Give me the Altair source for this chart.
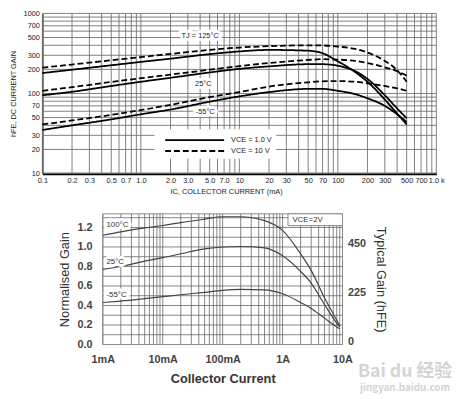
import altair as alt
import pandas as pd

# ---------------- top chart data (hFE vs Ic, mA) ----------------
top_current = [0.1, 0.2, 0.5, 1, 2, 5, 10, 20, 50, 70, 100, 150, 200, 300, 400, 500]
hfe_125_1v = [180, 198, 225, 248, 272, 310, 335, 350, 342, 318, 252, 185, 140, 84, 56, 41]
hfe_25_1v = [95, 105, 124, 140, 157, 183, 203, 218, 232, 232, 222, 190, 152, 95, 65, 49]
hfe_m55_1v = [35, 40, 47.5, 55, 63, 79, 92, 104, 114, 114, 108, 98, 87, 70, 55, 44]
hfe_125_10v = [210, 230, 260, 285, 312, 350, 375, 390, 400, 398, 385, 360, 325, 255, 195, 140]
hfe_25_10v = [108, 120, 139, 155, 172, 198, 220, 240, 262, 268, 265, 255, 240, 212, 190, 167]
hfe_m55_10v = [41, 46, 54, 62, 72, 90, 104, 122, 138, 142, 143, 140, 134, 124, 116, 108]
vce_names = ["VCE = 1.0 V", "VCE = 10 V"]

top_xticks = [0.1, 0.2, 0.3, 0.5, 0.7, 1, 2, 3, 5, 7, 10, 20, 30, 50, 70, 100, 200, 300, 500, 700, 1000]
top_yticks = [10, 20, 30, 50, 70, 100, 200, 300, 500, 700, 1000]
top_vgrid_vals = [m * d for d in [0.1, 1, 10, 100] for m in range(1, 10)] + [1000]
top_hgrid_vals = [m * d for d in [10, 100] for m in range(1, 10)] + [1000]

top_label_text = ["TJ = 125°C", "25°C", "-55°C"]
top_label_I = [4.0, 4.3, 4.5]
top_label_h = [522, 131, 59]

# ---------------- bottom chart data (normalised gain vs Ic, mA) ----------------
bot_current = [1, 2, 5, 10, 20, 50, 100, 200, 500, 1000, 2000, 3000, 5000, 8000, 9000]
gain_100 = [1.12, 1.155, 1.195, 1.22, 1.25, 1.285, 1.31, 1.31, 1.27, 1.17, 0.93, 0.76, 0.48, 0.25, 0.19]
gain_25 = [0.77, 0.80, 0.855, 0.89, 0.93, 0.98, 1.0, 1.005, 0.99, 0.91, 0.75, 0.63, 0.41, 0.22, 0.18]
gain_m55 = [0.43, 0.445, 0.47, 0.49, 0.51, 0.535, 0.555, 0.565, 0.56, 0.52, 0.43, 0.37, 0.27, 0.18, 0.16]
bot_temps = ["100°C", "25°C", "-55°C"]
bot_xticks = [1, 10, 100, 1000, 10000]
bot_yticks = [0, 0.2, 0.4, 0.6, 0.8, 1.0, 1.2]
bot_rticks = [0, 0.5, 1.0]
bot_vgrid_vals = [m * d for d in [1, 10, 100, 1000] for m in range(1, 10)] + [10000]
bot_hgrid_vals = [0.1, 0.2, 0.3, 0.4, 0.5, 0.6, 0.7, 0.8, 0.9, 1.0, 1.1, 1.2, 1.3]
bot_label_I = [1.15, 1.15, 1.15]
bot_label_g = [1.229, 0.846, 0.507]

W, H = 454, 391
NARROW = "Liberation Sans Narrow, Arial Narrow, Liberation Sans, sans-serif"
SANS = "Liberation Sans, Arial, sans-serif"


def sx_t():
    return alt.Scale(type="log", domain=[0.1, 1000], range=[35, 436], nice=False)


def sy_t():
    return alt.Scale(type="log", domain=[10, 1000], range=[165, 2], nice=False)


def sx_b():
    return alt.Scale(type="log", domain=[1, 10000], range=[96.5, 340.5], nice=False)


def sy_b():
    return alt.Scale(domain=[0, 1.34], range=[339, 206], nice=False, zero=False)


# ---------------- top chart ----------------
rows = []
for temp, vce, vals in [("125", vce_names[0], hfe_125_1v), ("25", vce_names[0], hfe_25_1v),
                        ("-55", vce_names[0], hfe_m55_1v), ("125", vce_names[1], hfe_125_10v),
                        ("25", vce_names[1], hfe_25_10v), ("-55", vce_names[1], hfe_m55_10v)]:
    for i, v in zip(top_current, vals):
        rows.append({"I": i, "hfe": v, "vce": vce, "series": temp + vce})
top_df = pd.DataFrame(rows)

top_vgrid = alt.Chart(pd.DataFrame({"v": top_vgrid_vals})).mark_rule(color="#707070", strokeWidth=0.9).encode(
    x=alt.X("v:Q", scale=sx_t(), axis=None),
    y=alt.YDatum(10, scale=sy_t(), axis=None),
    y2=alt.Y2Datum(1000),
)
top_hgrid = alt.Chart(pd.DataFrame({"v": top_hgrid_vals})).mark_rule(color="#707070", strokeWidth=0.9).encode(
    y=alt.Y("v:Q", scale=sy_t(), axis=None),
    x=alt.XDatum(0.1, scale=sx_t(), axis=None),
    x2=alt.X2Datum(1000),
)
top_lines = alt.Chart(top_df).mark_line(color="black", strokeWidth=1.8, interpolate="monotone").encode(
    x=alt.X("I:Q", scale=sx_t(), axis=alt.Axis(
        orient="bottom", offset=165 - H, values=top_xticks, grid=False, ticks=False, tickSize=0,
        labelExpr="datum.value >= 1000 ? '1.0 k' : (datum.value >= 10 ? format(datum.value, 'd') : format(datum.value, '.1f'))",
        labelFont=NARROW, labelFontSize=7.5, labelColor="#222", labelPadding=3, labelFlush=False,
        labelOverlap=False, domainColor="black", domainWidth=2.5,
        title="IC, COLLECTOR CURRENT (mA)", titleFont=NARROW, titleFontSize=7.5, titleFontWeight="normal",
        titleColor="#222", titlePadding=4, titleX=222)),
    y=alt.Y("hfe:Q", scale=sy_t(), axis=alt.Axis(
        orient="left", offset=-35, values=top_yticks, format="d", grid=False, ticks=False, tickSize=0,
        labelFont=NARROW, labelFontSize=7.5, labelColor="#222", labelPadding=3, labelOverlap=False,
        labelFlush=False, domainColor="#333", domainWidth=1.5,
        title="hFE, DC CURRENT GAIN", titleFont=NARROW, titleFontSize=7.5, titleFontWeight="normal",
        titleColor="#222", titlePadding=6)),
    strokeDash=alt.StrokeDash("vce:N", scale=alt.Scale(domain=vce_names, range=[[1, 0], [6, 3]]),
                              legend=alt.Legend(
                                  title=None, orient="none", legendX=149, legendY=120,
                                  symbolType="M0,0H10", symbolSize=144, symbolStrokeWidth=2,
                                  symbolStrokeColor="black", labelOffset=60, labelFont=NARROW,
                                  labelFontSize=7.5, labelColor="#222", fillColor="white",
                                  padding=4, rowPadding=0)),
    detail="series:N",
)
top_lab_df = pd.DataFrame({"t": top_label_text, "I": top_label_I, "h": top_label_h})
top_halo = alt.Chart(top_lab_df).mark_text(font=NARROW, fontSize=7.5, stroke="white", strokeWidth=6,
                                           fill="white").encode(
    x=alt.X("I:Q", scale=sx_t(), axis=None), y=alt.Y("h:Q", scale=sy_t(), axis=None), text="t:N")
top_text = alt.Chart(top_lab_df).mark_text(font=NARROW, fontSize=7.5, color="#222").encode(
    x=alt.X("I:Q", scale=sx_t(), axis=None), y=alt.Y("h:Q", scale=sy_t(), axis=None), text="t:N")

# ---------------- bottom chart ----------------
brows = []
for t, vals in zip(bot_temps, [gain_100, gain_25, gain_m55]):
    for i, g in zip(bot_current, vals):
        brows.append({"I": i, "g": g, "t": t})
bot_df = pd.DataFrame(brows)

bot_vgrid = alt.Chart(pd.DataFrame({"v": bot_vgrid_vals})).mark_rule(color="#666", strokeWidth=0.8).encode(
    x=alt.X("v:Q", scale=sx_b(), axis=None),
    y=alt.YDatum(0, scale=sy_b(), axis=None),
    y2=alt.Y2Datum(1.34),
)
bot_hgrid = alt.Chart(pd.DataFrame({"v": bot_hgrid_vals})).mark_rule(color="#666", strokeWidth=0.8).encode(
    y=alt.Y("v:Q", scale=sy_b(), axis=None),
    x=alt.XDatum(1, scale=sx_b(), axis=None),
    x2=alt.X2Datum(10000),
)
bot_border = alt.Chart(pd.DataFrame({"a": [0]})).mark_rect(fillOpacity=0, stroke="#888", strokeWidth=1).encode(
    x=alt.XDatum(1, scale=sx_b(), axis=None),
    x2=alt.X2Datum(10000),
    y=alt.YDatum(0, scale=sy_b(), axis=alt.Axis(
        orient="right", offset=-(W - 340.5), values=bot_rticks, grid=False, ticks=False, tickSize=0,
        labelExpr="format(datum.value * 450, 'd')", labelFont=SANS, labelFontSize=11,
        labelFontWeight="bold", labelColor="#444", labelPadding=5, labelOffset=-3, labelOverlap=False,
        labelFlush=False, domain=False, title="Typical Gain  (hFE)", titleFont=SANS, titleFontSize=13,
        titleFontWeight="normal", titleColor="#333", titlePadding=8)),
    y2=alt.Y2Datum(1.34),
)
bot_lines = alt.Chart(bot_df).mark_line(color="#444", strokeWidth=1.2, interpolate="monotone").encode(
    x=alt.X("I:Q", scale=sx_b(), axis=alt.Axis(
        orient="bottom", offset=339 - H, values=bot_xticks, grid=False, ticks=False, tickSize=0,
        labelExpr="datum.value >= 1000 ? format(datum.value / 1000, 'd') + 'A' : format(datum.value, 'd') + 'mA'",
        labelFont=SANS, labelFontSize=11, labelFontWeight="bold", labelColor="#444", labelPadding=9,
        labelOverlap=False, labelFlush=False, domain=False,
        title="Collector Current", titleFont=SANS, titleFontSize=13, titleFontWeight="bold",
        titleColor="#333", titlePadding=9)),
    y=alt.Y("g:Q", scale=sy_b(), axis=alt.Axis(
        orient="left", offset=-96.5, values=bot_yticks, format=".1f", grid=False, ticks=False, tickSize=0,
        labelFont=SANS, labelFontSize=11, labelFontWeight="bold", labelColor="#444", labelPadding=11,
        labelOverlap=False, labelFlush=False, domain=False,
        title="Normalised Gain", titleFont=SANS, titleFontSize=13, titleFontWeight="normal",
        titleColor="#333", titlePadding=6)),
    detail="t:N",
)
bot_lab_df = pd.DataFrame({"t": bot_temps, "I": bot_label_I, "g": bot_label_g})
bot_halo = alt.Chart(bot_lab_df).mark_text(font=SANS, fontSize=8, align="left", stroke="white",
                                           strokeWidth=6, fill="white").encode(
    x=alt.X("I:Q", scale=sx_b(), axis=None), y=alt.Y("g:Q", scale=sy_b(), axis=None), text="t:N")
bot_text = alt.Chart(bot_lab_df).mark_text(font=SANS, fontSize=8, align="left", color="#333").encode(
    x=alt.X("I:Q", scale=sx_b(), axis=None), y=alt.Y("g:Q", scale=sy_b(), axis=None), text="t:N")

vce_box = alt.Chart(pd.DataFrame({"a": [0]})).mark_rect(fill="white", stroke="#888", strokeWidth=1).encode(
    x=alt.XDatum(1232, scale=sx_b(), axis=None), x2=alt.X2Datum(10000),
    y=alt.YDatum(1.219, scale=sy_b(), axis=None), y2=alt.Y2Datum(1.34),
)
vce_text = alt.Chart(pd.DataFrame({"t": ["VCE=2V"], "I": [2618], "g": [1.28]})).mark_text(
    font=SANS, fontSize=8, color="#333").encode(
    x=alt.X("I:Q", scale=sx_b(), axis=None), y=alt.Y("g:Q", scale=sy_b(), axis=None), text="t:N")

wm_df = pd.DataFrame({"t": ["Bai du 经验", "jingyan.baidu.com"], "I": [110000, 110000], "g": [-0.28, -0.45],
                      "s": [18, 10]})
watermark = alt.Chart(wm_df).mark_text(font="Noto Sans CJK SC, Liberation Sans", color="#d4d4d4",
                                       fontWeight="bold").encode(
    x=alt.X("I:Q", scale=sx_b(), axis=None), y=alt.Y("g:Q", scale=sy_b(), axis=None), text="t:N",
    size=alt.Size("s:Q", scale=None, legend=None))

chart = alt.layer(
    top_vgrid, top_hgrid, top_lines, top_halo, top_text,
    bot_vgrid, bot_hgrid, bot_border, bot_lines, bot_halo, bot_text, vce_box, vce_text, watermark,
).resolve_scale(
    x="independent", y="independent"
).properties(width=W, height=H, padding=0, autosize="none", background="white").configure_view(strokeWidth=0)

chart.save("out.html", embed_options={"renderer": "svg", "actions": False})
